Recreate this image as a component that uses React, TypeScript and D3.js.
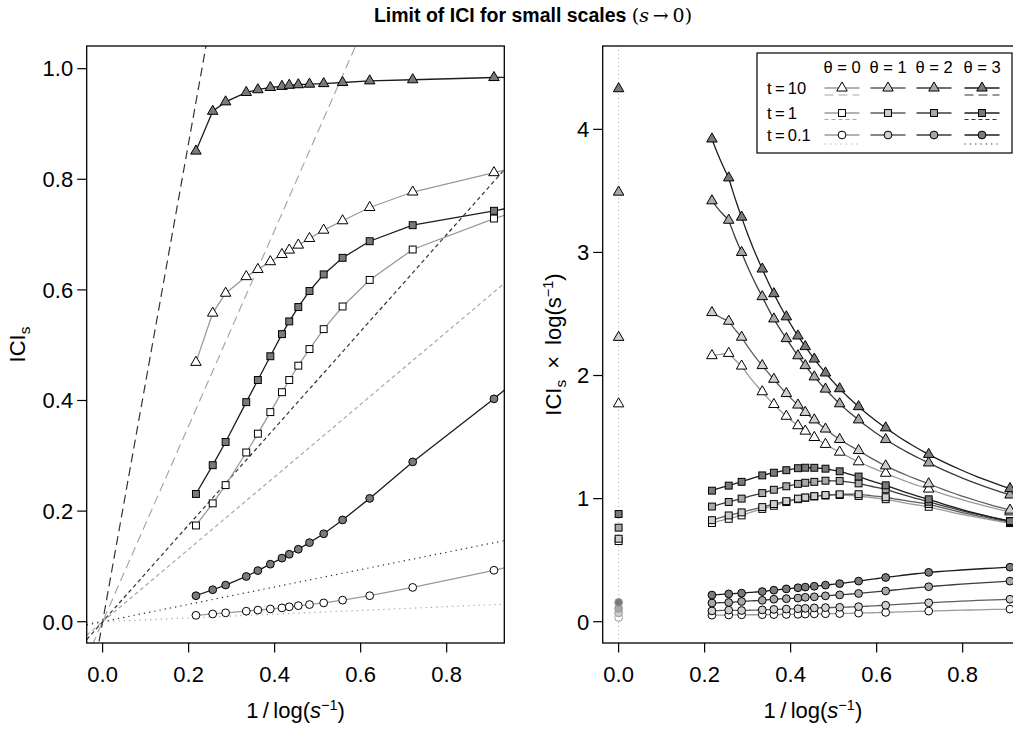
import React from 'react';
import * as d3 from 'd3';

// x = 1/log(1/s); last value lies beyond the frame (clipped)
const xInv = [0.217, 0.256, 0.286, 0.334, 0.361, 0.390, 0.417, 0.434, 0.455, 0.481, 0.514, 0.558, 0.621, 0.721, 0.910, 1.443];

const thetaLabels = ['0', '1', '2', '3'];
const tLabels = ['10', '1', '0.1'];

// ICI_s values, t = 10
const iciT10Th0 = [0.469, 0.558, 0.594, 0.624, 0.637, 0.651, 0.664, 0.672, 0.681, 0.693, 0.708, 0.725, 0.749, 0.777, 0.812, 0.91];
const iciT10Th1 = [0.545, 0.625, 0.661, 0.695, 0.711, 0.723, 0.734, 0.738, 0.746, 0.753, 0.761, 0.776, 0.786, 0.808, 0.825, 0.88];
const iciT10Th2 = [0.742, 0.835, 0.858, 0.882, 0.888, 0.897, 0.901, 0.903, 0.905, 0.909, 0.910, 0.915, 0.919, 0.930, 0.937, 0.955];
const iciT10Th3 = [0.851, 0.923, 0.940, 0.957, 0.962, 0.966, 0.968, 0.970, 0.971, 0.972, 0.973, 0.975, 0.978, 0.980, 0.984, 0.99];
// t = 1
const iciT1Th0 = [0.174, 0.214, 0.247, 0.306, 0.340, 0.379, 0.415, 0.437, 0.463, 0.493, 0.529, 0.570, 0.618, 0.673, 0.729, 0.86];
const iciT1Th1 = [0.179, 0.221, 0.254, 0.311, 0.345, 0.382, 0.417, 0.438, 0.464, 0.495, 0.532, 0.578, 0.628, 0.689, 0.737, 0.87];
const iciT1Th2 = [0.203, 0.249, 0.286, 0.349, 0.387, 0.429, 0.467, 0.490, 0.517, 0.551, 0.588, 0.627, 0.668, 0.703, 0.744, 0.84];
const iciT1Th3 = [0.231, 0.283, 0.325, 0.397, 0.437, 0.480, 0.520, 0.543, 0.569, 0.598, 0.628, 0.658, 0.688, 0.717, 0.743, 0.82];
// t = 0.1
const iciT01Th0 = [0.0115, 0.014, 0.016, 0.019, 0.021, 0.023, 0.025, 0.027, 0.029, 0.031, 0.034, 0.039, 0.047, 0.062, 0.093, 0.19];
const iciT01Th1 = [0.019, 0.024, 0.026, 0.032, 0.036, 0.040, 0.044, 0.047, 0.051, 0.055, 0.060, 0.068, 0.083, 0.111, 0.166, 0.32];
const iciT01Th2 = [0.033, 0.040, 0.047, 0.058, 0.066, 0.073, 0.080, 0.086, 0.092, 0.101, 0.112, 0.128, 0.155, 0.205, 0.300, 0.55];
const iciT01Th3 = [0.047, 0.0578, 0.0663, 0.0818, 0.0924, 0.104, 0.115, 0.122, 0.131, 0.143, 0.159, 0.184, 0.223, 0.289, 0.403, 0.75];

// limits of ICI_s * log(1/s) as s -> 0 (theta 0..3)
const limT10 = [1.77, 2.31, 3.49, 4.33];
const limT1 = [0.655, 0.674, 0.764, 0.875];
const limT01 = [0.034, 0.072, 0.108, 0.157];

const leftTicksX = [0, 0.2, 0.4, 0.6, 0.8];
const leftTicksY = [0, 0.2, 0.4, 0.6, 0.8, 1.0];
const rightTicksY = [0, 1, 2, 3, 4];

const ici = [
  [iciT10Th0, iciT10Th1, iciT10Th2, iciT10Th3],
  [iciT1Th0, iciT1Th1, iciT1Th2, iciT1Th3],
  [iciT01Th0, iciT01Th1, iciT01Th2, iciT01Th3],
];
const lims = [limT10, limT1, limT01];

const FONT = "'Liberation Sans', Arial, Helvetica, sans-serif";
const SERIF = "'DejaVu Serif', 'Liberation Serif', serif";
const lineCol = ['#9a9a9a', '#5e5e5e', '#3c3c3c', '#1c1c1c'];
const fillCol = ['#ffffff', '#cfcfcf', '#a8a8a8', '#7a7a7a'];
const asymCol = ['#a8a8a8', '', '', '#333333'];
const shapes = ['tri', 'sq', 'circ'];
const dashes = ['9,5', '4,3', '1.3,4'];

const L = { x0: 86.7, x1: 504.3, y0: 46, y1: 643 };
const R = { x0: 602.7, x1: 1020.3, y0: 46, y1: 643 };

const xsL = d3.scaleLinear().domain([-0.037, 0.934]).range([L.x0, L.x1]);
const ysL = d3.scaleLinear().domain([-0.0385, 1.041]).range([L.y1, L.y0]);
const xsR = d3.scaleLinear().domain([-0.037, 0.934]).range([R.x0, R.x1]);
const ysR = d3.scaleLinear().domain([-0.173, 4.677]).range([R.y1, R.y0]);

const FS = 22;

function Marker({ shape, cx, cy, fill, stroke = '#000' }: any) {
  const r = 3.9;
  if (shape === 'tri') {
    return <path d={`M${cx},${cy - 1.555 * r}L${cx + 1.347 * r},${cy + 0.778 * r}L${cx - 1.347 * r},${cy + 0.778 * r}Z`} fill={fill} stroke={stroke} strokeWidth={1} />;
  }
  if (shape === 'sq') {
    const h = 0.886 * r;
    return <rect x={cx - h} y={cy - h} width={2 * h} height={2 * h} fill={fill} stroke={stroke} strokeWidth={1} />;
  }
  return <circle cx={cx} cy={cy} r={r} fill={fill} stroke={stroke} strokeWidth={1} />;
}

function rightPath(vals: number[]) {
  const pts: [number, number][] = [];
  for (let i = 0; i < xInv.length - 1; i++) {
    const N = 10;
    for (let j = 0; j < N; j++) {
      const f = j / N;
      const x = xInv[i] + (xInv[i + 1] - xInv[i]) * f;
      const y = vals[i] + (vals[i + 1] - vals[i]) * f;
      pts.push([x, y / x]);
    }
  }
  const n = xInv.length - 1;
  pts.push([xInv[n], vals[n] / xInv[n]]);
  return d3.line<[number, number]>().x(d => xsR(d[0])).y(d => ysR(d[1]))(pts) || '';
}

function XLabel({ x }: { x: number }) {
  return (
    <text x={x} y={718} textAnchor="middle" fontSize={FS}>
      1{'\u2009'}/{'\u2009'}log(<tspan fontStyle="italic">s</tspan><tspan dy={-8} fontSize={14.5}>−1</tspan><tspan dy={8}>)</tspan>
    </text>
  );
}

export default function App() {
  const lineL = d3.line<number>().x((_, i) => xsL(xInv[i])).y(d => ysL(d));
  const visible = (i: number) => xInv[i] <= 0.934;
  const legendCols = [842, 888, 934, 982];
  const legendRows = [88, 113, 135];
  const legendAsym = [95, 119.5, 144];

  return (
    <svg width={1013} height={733} style={{ position: 'absolute', left: 0, top: 0, background: '#fff' }} fontFamily={FONT}>
      <defs>
        <clipPath id="clipL"><rect x={L.x0} y={L.y0} width={L.x1 - L.x0} height={L.y1 - L.y0} /></clipPath>
        <clipPath id="clipR"><rect x={R.x0} y={R.y0} width={R.x1 - R.x0} height={R.y1 - R.y0} /></clipPath>
      </defs>
      <rect width={1013} height={733} fill="#fff" />

      {/* Title */}
      <text x={533} y={22} textAnchor="middle" fontSize={19.5}>
        <tspan fontWeight="bold">Limit of ICI for small scales </tspan>
        <tspan fontFamily={SERIF} fontSize={19}>(</tspan>
        <tspan fontFamily={SERIF} fontStyle="italic" fontSize={19}>s</tspan>
        <tspan fontFamily={SERIF} fontSize={19}>{'\u2009'}→{'\u2009'}0)</tspan>
      </text>

      {/* LEFT PANEL */}
      <g clipPath="url(#clipL)">
        {lims.map((lim, ti) => [0, 3].map(th => {
          const xa = -0.037, xb = 0.934;
          return <line key={`a${ti}${th}`} x1={xsL(xa)} y1={ysL(lim[th] * xa)} x2={xsL(xb)} y2={ysL(lim[th] * xb)}
            stroke={asymCol[th]} strokeWidth={1.2} strokeDasharray={dashes[ti]} />;
        }))}
        {ici.map((row, ti) => [0, 3].map(th => (
          <g key={`l${ti}${th}`}>
            <path d={lineL(row[th]) || ''} fill="none" stroke={lineCol[th]} strokeWidth={1.3} />
            {row[th].map((v, i) => visible(i) ? <Marker key={i} shape={shapes[ti]} cx={xsL(xInv[i])} cy={ysL(v)} fill={fillCol[th]} /> : null)}
          </g>
        )))}
      </g>
      <rect x={L.x0} y={L.y0} width={L.x1 - L.x0} height={L.y1 - L.y0} fill="none" stroke="#000" strokeWidth={1.3} />
      {leftTicksX.map(t => (
        <g key={`lx${t}`}>
          <line x1={xsL(t)} x2={xsL(t)} y1={L.y1} y2={L.y1 + 9.5} stroke="#000" strokeWidth={1.2} />
          <text x={xsL(t)} y={682} textAnchor="middle" fontSize={FS}>{t.toFixed(1)}</text>
        </g>
      ))}
      {leftTicksY.map(t => (
        <g key={`ly${t}`}>
          <line x1={L.x0 - 9.5} x2={L.x0} y1={ysL(t)} y2={ysL(t)} stroke="#000" strokeWidth={1.2} />
          <text x={L.x0 - 13.5} y={ysL(t) + 7.8} textAnchor="end" fontSize={FS}>{t.toFixed(1)}</text>
        </g>
      ))}
      <XLabel x={(L.x0 + L.x1) / 2} />
      <text transform={`translate(25,${(L.y0 + L.y1) / 2}) rotate(-90)`} textAnchor="middle" fontSize={FS}>
        ICI<tspan dy={5} fontSize={15.5}>s</tspan>
      </text>

      {/* RIGHT PANEL */}
      <g clipPath="url(#clipR)">
        <line x1={xsR(0)} x2={xsR(0)} y1={R.y0} y2={R.y1} stroke="#b0b0b0" strokeWidth={1} strokeDasharray="1,3" />
        {ici.map((row, ti) => row.map((vals, th) => (
          <g key={`r${ti}${th}`}>
            <path d={rightPath(vals)} fill="none" stroke={lineCol[th]} strokeWidth={1.3} />
            {vals.map((v, i) => visible(i) ? <Marker key={i} shape={shapes[ti]} cx={xsR(xInv[i])} cy={ysR(v / xInv[i])} fill={fillCol[th]} /> : null)}
          </g>
        )))}
        {lims.map((lim, ti) => lim.map((v, th) => (
          <Marker key={`z${ti}${th}`} shape={shapes[ti]} cx={xsR(0)} cy={ysR(v)} fill={fillCol[th]} stroke={ti === 2 ? '#999' : '#000'} />
        )))}
      </g>
      <rect x={R.x0} y={R.y0} width={R.x1 - R.x0} height={R.y1 - R.y0} fill="none" stroke="#000" strokeWidth={1.3} />
      {leftTicksX.map(t => (
        <g key={`rx${t}`}>
          <line x1={xsR(t)} x2={xsR(t)} y1={R.y1} y2={R.y1 + 9.5} stroke="#000" strokeWidth={1.2} />
          <text x={xsR(t)} y={682} textAnchor="middle" fontSize={FS}>{t.toFixed(1)}</text>
        </g>
      ))}
      {rightTicksY.map(t => (
        <g key={`ry${t}`}>
          <line x1={R.x0 - 9.5} x2={R.x0} y1={ysR(t)} y2={ysR(t)} stroke="#000" strokeWidth={1.2} />
          <text x={R.x0 - 13.5} y={ysR(t) + 7.8} textAnchor="end" fontSize={FS}>{t}</text>
        </g>
      ))}
      <XLabel x={(R.x0 + 1013) / 2 + 5} />
      <text transform={`translate(561,${(R.y0 + R.y1) / 2}) rotate(-90)`} textAnchor="middle" fontSize={FS}>
        ICI<tspan dy={5} fontSize={15.5}>s</tspan><tspan dy={-5}>{'\u2002'}×{'\u2002'}log(s</tspan><tspan dy={-8} fontSize={14.5}>−1</tspan><tspan dy={8}>)</tspan>
      </text>

      {/* LEGEND */}
      <rect x={757} y={53} width={255} height={100} fill="#fff" stroke="#000" strokeWidth={1.2} />
      {thetaLabels.map((lab, th) => (
        <text key={`th${th}`} x={legendCols[th]} y={72.5} textAnchor="middle" fontSize={16.5}>θ = {lab}</text>
      ))}
      {tLabels.map((lab, ti) => (
        <g key={`tr${ti}`}>
          <text x={767} y={legendRows[ti] + 5.8} fontSize={16.5}>t{'\u2009'}={'\u2009'}{lab}</text>
          {thetaLabels.map((_, th) => (
            <g key={th}>
              <line x1={legendCols[th] - 17.5} x2={legendCols[th] + 17.5} y1={legendRows[ti]} y2={legendRows[ti]} stroke={lineCol[th]} strokeWidth={1.3} />
              <Marker shape={shapes[ti]} cx={legendCols[th]} cy={legendRows[ti]} fill={fillCol[th]} />
              {(th === 0 || th === 3) && (
                <line x1={legendCols[th] - 17.5} x2={legendCols[th] + 17.5} y1={legendAsym[ti]} y2={legendAsym[ti]} stroke={asymCol[th]} strokeWidth={1.2} strokeDasharray={dashes[ti]} />
              )}
            </g>
          ))}
        </g>
      ))}
    </svg>
  );
}
